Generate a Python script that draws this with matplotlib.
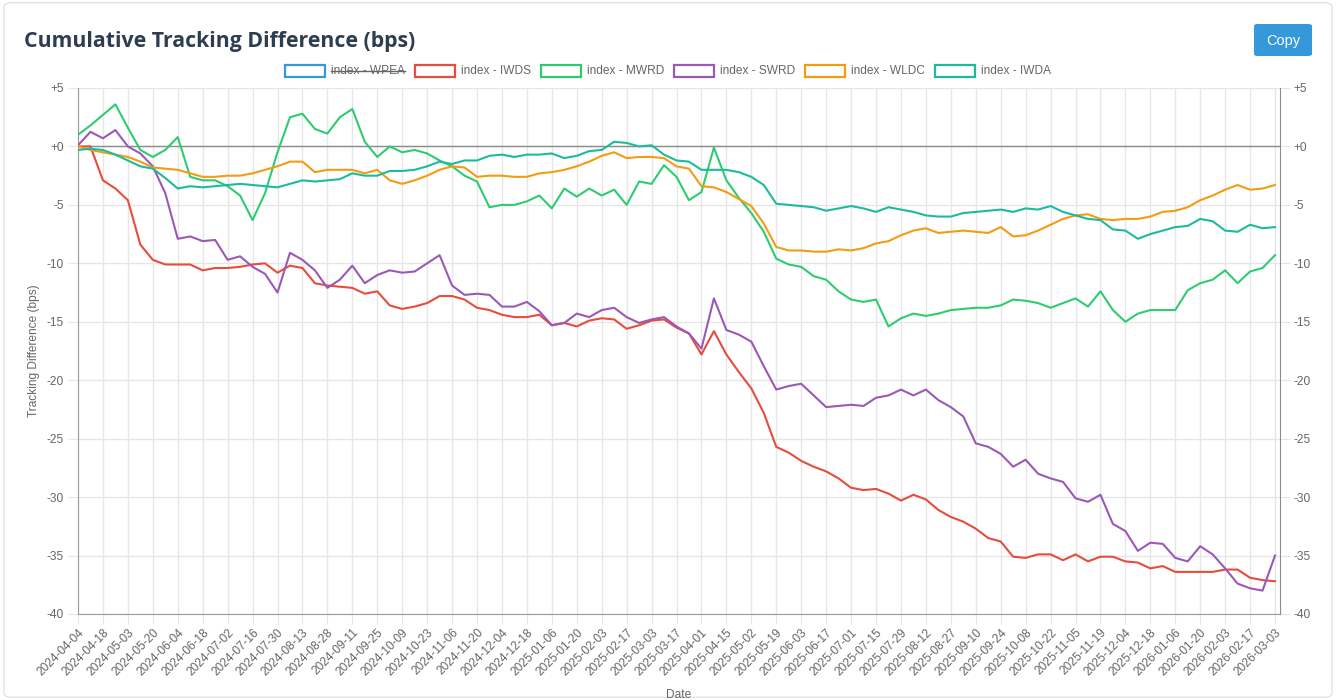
import numpy as np
import matplotlib
matplotlib.use('Agg')
import matplotlib.pyplot as plt
from matplotlib.patches import FancyBboxPatch, Rectangle
from matplotlib.lines import Line2D

plt.rcParams['font.family'] = ['Liberation Sans', 'DejaVu Sans']

# Date labels shown on the category axis (one every 10 trading days)
tick_dates = [
    '2024-04-04', '2024-04-18', '2024-05-03', '2024-05-20', '2024-06-04', '2024-06-18',
    '2024-07-02', '2024-07-16', '2024-07-30', '2024-08-13', '2024-08-28', '2024-09-11',
    '2024-09-25', '2024-10-09', '2024-10-23', '2024-11-06', '2024-11-20', '2024-12-04',
    '2024-12-18', '2025-01-06', '2025-01-20', '2025-02-03', '2025-02-17', '2025-03-03',
    '2025-03-17', '2025-04-01', '2025-04-15', '2025-05-02', '2025-05-19', '2025-06-03',
    '2025-06-17', '2025-07-01', '2025-07-15', '2025-07-29', '2025-08-12', '2025-08-27',
    '2025-09-10', '2025-09-24', '2025-10-08', '2025-10-22', '2025-11-05', '2025-11-19',
    '2025-12-04', '2025-12-18', '2026-01-06', '2026-01-20', '2026-02-03', '2026-02-17',
    '2026-03-03',
]

# Cumulative tracking difference (bps), sampled every 5 trading days
iwds = [
    0.0, 0.0, -2.9, -3.6, -4.6, -8.4, -9.7, -10.1, -10.1, -10.1, -10.6, -10.4, -10.4, -10.3,
    -10.1, -10.0, -10.8, -10.2, -10.4, -11.7, -11.9, -12.0, -12.1, -12.6, -12.4, -13.6, -13.9,
    -13.7, -13.4, -12.8, -12.8, -13.1, -13.8, -14.0, -14.4, -14.6, -14.6, -14.4, -15.3, -15.1,
    -15.4, -14.9, -14.7, -14.8, -15.6, -15.3, -14.9, -14.8, -15.5, -16.0, -17.8, -15.8, -17.8,
    -19.3, -20.7, -22.8, -25.7, -26.2, -26.9, -27.4, -27.8, -28.4, -29.2, -29.4, -29.3, -29.7,
    -30.3, -29.8, -30.2, -31.1, -31.7, -32.1, -32.7, -33.5, -33.8, -35.1, -35.2, -34.9, -34.9,
    -35.4, -34.9, -35.5, -35.1, -35.1, -35.5, -35.6, -36.1, -35.9, -36.4, -36.4, -36.4, -36.4,
    -36.2, -36.2, -36.9, -37.1, -37.2,
]
mwrd = [
    1.0, 1.8, 2.7, 3.6, 1.6, -0.3, -0.9, -0.3, 0.8, -2.6, -2.9, -2.9, -3.4, -4.2, -6.3, -4.0,
    -0.5, 2.5, 2.8, 1.5, 1.1, 2.5, 3.2, 0.4, -0.9, 0.0, -0.5, -0.3, -0.6, -1.2, -1.7, -2.5,
    -3.0, -5.2, -5.0, -5.0, -4.7, -4.2, -5.3, -3.6, -4.3, -3.6, -4.2, -3.7, -5.0, -3.0, -3.2,
    -1.6, -2.6, -4.6, -3.9, -0.1, -2.9, -4.4, -5.7, -7.3, -9.6, -10.1, -10.3, -11.1, -11.4,
    -12.4, -13.1, -13.3, -13.1, -15.4, -14.7, -14.3, -14.5, -14.3, -14.0, -13.9, -13.8, -13.8,
    -13.6, -13.1, -13.2, -13.4, -13.8, -13.4, -13.0, -13.7, -12.4, -14.0, -15.0, -14.3, -14.0,
    -14.0, -14.0, -12.3, -11.7, -11.4, -10.6, -11.7, -10.7, -10.4, -9.3,
]
swrd = [
    0.1, 1.25, 0.7, 1.4, 0.0, -0.6, -1.7, -4.0, -7.9, -7.7, -8.1, -8.0, -9.7, -9.4, -10.3,
    -10.9, -12.5, -9.1, -9.7, -10.6, -12.1, -11.4, -10.2, -11.7, -11.0, -10.6, -10.8, -10.7,
    -10.0, -9.3, -11.9, -12.7, -12.6, -12.7, -13.7, -13.7, -13.3, -14.1, -15.3, -15.1, -14.3,
    -14.6, -14.0, -13.8, -14.6, -15.1, -14.8, -14.6, -15.4, -16.0, -17.3, -13.0, -15.7, -16.1,
    -16.7, -18.8, -20.8, -20.5, -20.3, -21.3, -22.3, -22.2, -22.1, -22.2, -21.5, -21.3, -20.8,
    -21.3, -20.8, -21.7, -22.3, -23.1, -25.4, -25.7, -26.3, -27.4, -26.8, -28.0, -28.4, -28.7,
    -30.1, -30.4, -29.8, -32.3, -32.9, -34.6, -33.9, -34.0, -35.2, -35.5, -34.2, -34.9, -36.1,
    -37.4, -37.8, -38.0, -35.0,
]
wldc = [
    0.0, -0.3, -0.5, -0.7, -0.9, -1.3, -1.8, -1.9, -2.0, -2.3, -2.6, -2.6, -2.5, -2.5, -2.3,
    -2.0, -1.7, -1.3, -1.3, -2.2, -2.0, -2.0, -2.0, -2.3, -2.0, -2.9, -3.2, -2.9, -2.5, -2.0,
    -1.7, -1.8, -2.6, -2.5, -2.5, -2.6, -2.6, -2.3, -2.2, -2.0, -1.7, -1.3, -0.8, -0.5, -1.0,
    -0.9, -0.9, -1.0, -1.7, -1.9, -3.4, -3.5, -3.9, -4.5, -5.1, -6.6, -8.6, -8.9, -8.9, -9.0,
    -9.0, -8.8, -8.9, -8.7, -8.3, -8.1, -7.6, -7.2, -7.0, -7.4, -7.3, -7.2, -7.3, -7.4, -6.9,
    -7.7, -7.6, -7.2, -6.7, -6.2, -5.9, -5.8, -6.2, -6.3, -6.2, -6.2, -6.0, -5.6, -5.5, -5.2,
    -4.6, -4.2, -3.7, -3.3, -3.7, -3.6, -3.3,
]
iwda = [
    -0.3, -0.2, -0.3, -0.7, -1.2, -1.7, -1.9, -2.7, -3.6, -3.4, -3.5, -3.4, -3.3, -3.2, -3.3,
    -3.4, -3.5, -3.2, -2.9, -3.0, -2.9, -2.8, -2.3, -2.5, -2.5, -2.1, -2.1, -2.0, -1.7, -1.3,
    -1.5, -1.2, -1.2, -0.8, -0.7, -0.9, -0.7, -0.7, -0.6, -1.0, -0.8, -0.4, -0.3, 0.4, 0.3,
    0.0, 0.1, -0.7, -1.2, -1.3, -2.0, -2.0, -2.0, -2.2, -2.6, -3.3, -4.9, -5.0, -5.1, -5.2,
    -5.5, -5.3, -5.1, -5.3, -5.6, -5.2, -5.4, -5.6, -5.9, -6.0, -6.0, -5.7, -5.6, -5.5, -5.4,
    -5.6, -5.3, -5.4, -5.1, -5.6, -5.9, -6.2, -6.3, -7.1, -7.2, -7.9, -7.5, -7.2, -6.9, -6.8,
    -6.2, -6.4, -7.2, -7.3, -6.7, -7.0, -6.9,
]

# legend order; WPEA is toggled off in the original chart
names = ['index - WPEA', 'index - IWDS', 'index - MWRD', 'index - SWRD', 'index - WLDC', 'index - IWDA']
colors = ['#3498db', '#e74c3c', '#2ecc71', '#9b59b6', '#f39c12', '#1abc9c']
series = [None, iwds, mwrd, swrd, wldc, iwda]

W, H = 1336, 700
fig = plt.figure(figsize=(W / 100, H / 100), dpi=100)
fig.patch.set_facecolor('white')

# card outline (kept behind the axes)
card = FancyBboxPatch((0.003, 0.004), 0.994, 0.992, boxstyle='round,pad=0,rounding_size=0.006',
                      transform=fig.transFigure, facecolor='white', edgecolor='#e3e3e3', lw=1, zorder=-10)
fig.add_artist(card)

ax = fig.add_axes([78 / W, 1 - 614 / H, (1280 - 78) / W, (614 - 88) / H])
ax.set_facecolor('none')
x = np.arange(len(iwds)) * 5

for vals, color in zip(series, colors):
    if vals is None:
        continue
    ax.plot(x, vals, color=color, lw=1.5, solid_joinstyle='round', zorder=3)

ax.axhline(0, color='#8c8c8c', lw=1, zorder=2)

ax.set_xlim(0, 482)
ax.set_ylim(-40, 5)
yt = list(range(-40, 6, 5))
ax.set_yticks(yt)
ax.set_yticklabels([f'{v:+d}' for v in yt])
ax.set_xticks(np.arange(len(tick_dates)) * 10)
ax.set_xticklabels(tick_dates, rotation=45, ha='right', va='top', rotation_mode='anchor')

ax.grid(True, color='#e6e6e6', lw=1)
ax.set_axisbelow(True)
ax.tick_params(axis='both', length=7, color='#e6e6e6', labelcolor='#666666', labelsize=8.6, pad=3)
ax.tick_params(axis='x', pad=2)
for side in ['top', 'right']:
    ax.spines[side].set_visible(False)
ax.spines['left'].set_color('#9a9a9a')
ax.spines['bottom'].set_color('#9a9a9a')

ax2 = ax.twinx()
ax2.set_ylim(-40, 5)
ax2.set_yticks(yt)
ax2.set_yticklabels([f'{v:+d}' for v in yt])
ax2.tick_params(axis='y', length=7, color='#e6e6e6', labelcolor='#666666', labelsize=8.6, pad=3)
for side in ['top', 'left', 'bottom']:
    ax2.spines[side].set_visible(False)
ax2.spines['right'].set_color('#8c8c8c')

fig.text(34 / W, 1 - 351 / H, 'Tracking Difference (bps)', rotation=90, ha='center', va='center',
         fontsize=8.6, color='#666666')
fig.text(679 / W, 1 - 695 / H, 'Date', ha='center', va='center', fontsize=8.6, color='#666666')

# title
fig.text(24 / W, 1 - 41 / H, 'Cumulative Tracking Difference (bps)', ha='left', va='center',
         fontsize=15.3, fontweight='bold', color='#2c3e50', family=['Open Sans', 'DejaVu Sans'])

# copy button
fig.add_artist(FancyBboxPatch((1254 / W, 1 - 56 / H), 58 / W, 32 / H, boxstyle='round,pad=0,rounding_size=0.003',
                              transform=fig.transFigure, facecolor='#3498db', edgecolor='none'))
fig.text(1283 / W, 1 - 41 / H, 'Copy', ha='center', va='center', fontsize=10.5, color='white')

# legend drawn by hand to mimic the Chart.js boxes
legend_x = [285, 415, 541, 674, 805, 935]
legend_texts = []
for lx, name, color in zip(legend_x, names, colors):
    fig.add_artist(Rectangle((lx / W, 1 - 77 / H), 40 / W, 12 / H, transform=fig.transFigure,
                             facecolor='white', edgecolor=color, lw=1.6))
    t = fig.text((lx + 46) / W, 1 - 71 / H, name, ha='left', va='center', fontsize=8.6, color='#666666')
    legend_texts.append(t)

fig.canvas.draw()
bb = legend_texts[0].get_window_extent()
ymid = (bb.y0 + bb.y1) / 2
fig.add_artist(Line2D([bb.x0 / fig.bbox.width, bb.x1 / fig.bbox.width],
                      [ymid / fig.bbox.height, ymid / fig.bbox.height],
                      transform=fig.transFigure, color='#666666', lw=1))

fig.savefig('out.png', dpi=100)
